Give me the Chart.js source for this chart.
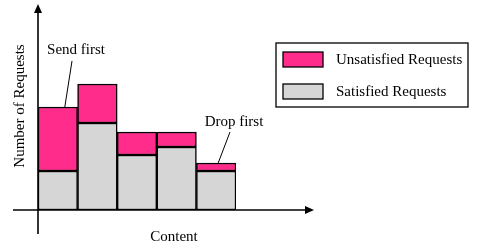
<!DOCTYPE html>
<html><head><meta charset="utf-8">
<script src="https://cdn.jsdelivr.net/npm/chart.js@4/dist/chart.umd.min.js"></script>
<style>html,body{margin:0;padding:0;background:#fff}#wrap{width:482px;height:248px}</style>
</head><body><div id="wrap"><canvas id="c" width="482" height="248"></canvas></div>
<script>
const categories = ['C1', 'C2', 'C3', 'C4', 'C5'];
const satisfied = [39, 87, 55, 63, 39];
const unsatisfied = [64, 39, 23, 15, 8];
const seriesNames = ['Satisfied Requests', 'Unsatisfied Requests'];
const xTitle = 'Content';
const yTitle = 'Number of Requests';
const notes = ['Send first', 'Drop first'];

const FONT = '15px "Liberation Serif", "Times New Roman", serif';
const PINK = '#FF2C8C', GRAY = '#D6D6D6';

const deco = {
  id: 'deco',
  afterDraw(chart) {
    const ctx = chart.ctx, a = chart.chartArea;
    const xs = chart.scales.x, ys = chart.scales.y;
    ctx.save();
    ctx.strokeStyle = '#000'; ctx.fillStyle = '#000'; ctx.lineWidth = 1.6;
    // x axis
    const yb = ys.getPixelForValue(0);
    const x0 = xs.getPixelForValue(0) - (xs.getPixelForValue(1) - xs.getPixelForValue(0)) / 2;
    ctx.beginPath(); ctx.moveTo(13, yb); ctx.lineTo(308, yb); ctx.stroke();
    ctx.beginPath(); ctx.moveTo(314, yb); ctx.lineTo(305, yb - 4); ctx.lineTo(305, yb + 4); ctx.closePath(); ctx.fill();
    // y axis
    ctx.beginPath(); ctx.moveTo(x0, 234); ctx.lineTo(x0, 11); ctx.stroke();
    ctx.beginPath(); ctx.moveTo(x0, 4); ctx.lineTo(x0 - 4, 13); ctx.lineTo(x0 + 4, 13); ctx.closePath(); ctx.fill();
    // titles
    ctx.font = FONT; ctx.textAlign = 'center'; ctx.textBaseline = 'middle';
    ctx.fillText(xTitle, 174, 237);
    ctx.save(); ctx.translate(20, 106); ctx.rotate(-Math.PI / 2); ctx.fillText(yTitle, 0, 0); ctx.restore();
    // annotations
    ctx.lineWidth = 1;
    const t0 = ys.getPixelForValue(satisfied[0] + unsatisfied[0]);
    const t4 = ys.getPixelForValue(satisfied[4] + unsatisfied[4]);
    const bx0 = xs.getPixelForValue(0), bx4 = xs.getPixelForValue(4);
    ctx.fillText(notes[0], 76, 50);
    ctx.beginPath(); ctx.moveTo(72, 61); ctx.lineTo(bx0 + 7, t0); ctx.stroke();
    ctx.fillText(notes[1], 234, 122);
    ctx.beginPath(); ctx.moveTo(230, 132); ctx.lineTo(bx4 + 2, t4); ctx.stroke();
    // legend
    ctx.lineWidth = 1.3;
    ctx.strokeRect(276, 43, 192, 64);
    const items = [[chart.data.datasets[1].label, PINK, 52], [chart.data.datasets[0].label, GRAY, 84]];
    ctx.textAlign = 'left';
    for (const [lab, col, y] of items) {
      ctx.fillStyle = col; ctx.fillRect(283, y, 40, 15);
      ctx.strokeRect(283, y, 40, 15);
      ctx.fillStyle = '#000'; ctx.fillText(lab, 336, y + 8);
    }
    ctx.restore();
  }
};

new Chart(document.getElementById('c'), {
  type: 'bar',
  data: {
    labels: categories,
    datasets: [
      { label: seriesNames[0], data: satisfied, backgroundColor: GRAY, borderColor: '#000', borderWidth: 1.5, borderSkipped: false },
      { label: seriesNames[1], data: unsatisfied, backgroundColor: PINK, borderColor: '#000', borderWidth: 1.5, borderSkipped: false }
    ]
  },
  options: {
    responsive: false, animation: false,
    layout: { padding: { left: 38, right: 246, top: 5, bottom: 38 } },
    datasets: { bar: { categoryPercentage: 1, barPercentage: 1 } },
    scales: {
      x: { stacked: true, display: false, grid: { display: false } },
      y: { stacked: true, display: false, min: 0, max: 205, grid: { display: false } }
    },
    plugins: { legend: { display: false }, tooltip: { enabled: false } }
  },
  plugins: [deco]
});
</script></body></html>
